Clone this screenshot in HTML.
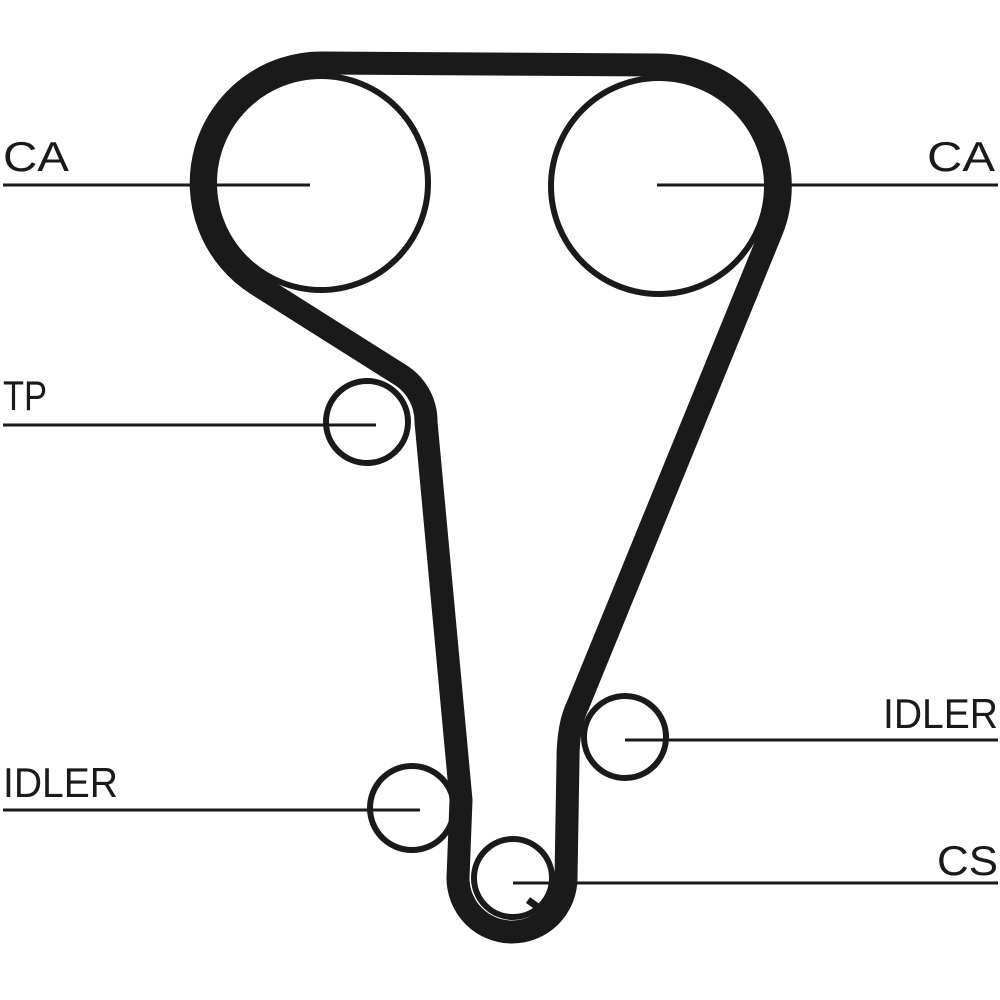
<!DOCTYPE html>
<html><head><meta charset="utf-8"><style>html,body{margin:0;padding:0;background:#fff}svg{display:block}</style></head>
<body>
<svg width="1000" height="1000" viewBox="0 0 1000 1000" xmlns="http://www.w3.org/2000/svg">
<g fill="none" stroke="#1a1a1a">
<path d="M321 63 L659 65 A121 121 0 0 1 772 230 L578 705 Q568 725 568 760 L566 878 A54 54 0 0 1 458 878 L461 800 L426 422 A55 55 0 0 0 402 376 L258 285 A120 120 0 0 1 321 63 Z" stroke-width="23" stroke-linejoin="round"/>
<circle cx="321" cy="183" r="107" stroke-width="6"/>
<circle cx="659" cy="186" r="108" stroke-width="6"/>
<circle cx="367" cy="422" r="41" stroke-width="6"/>
<circle cx="625" cy="737" r="41" stroke-width="6"/>
<circle cx="412" cy="808" r="42" stroke-width="6"/>
<circle cx="513" cy="878" r="39" stroke-width="6"/>
<line x1="528" y1="900" x2="546" y2="913" stroke-width="7"/>
<g stroke-width="3">
<line x1="3" y1="185" x2="310" y2="185"/>
<line x1="657" y1="185" x2="998" y2="185"/>
<line x1="3" y1="425" x2="376" y2="425"/>
<line x1="625" y1="740" x2="998" y2="740"/>
<line x1="3" y1="810" x2="420" y2="810"/>
<line x1="513" y1="883" x2="998" y2="883"/>
</g>
</g>
<g font-family="Liberation Sans, sans-serif" font-size="42" fill="#1a1a1a">
<text x="3" y="171" textLength="66" lengthAdjust="spacingAndGlyphs">CA</text>
<text x="927" y="171" textLength="68" lengthAdjust="spacingAndGlyphs">CA</text>
<text x="3" y="410" textLength="44" lengthAdjust="spacingAndGlyphs">TP</text>
<text x="883" y="728" textLength="115" lengthAdjust="spacingAndGlyphs">IDLER</text>
<text x="3" y="797" textLength="115" lengthAdjust="spacingAndGlyphs">IDLER</text>
<text x="937" y="875" textLength="61" lengthAdjust="spacingAndGlyphs">CS</text>
</g>
</svg>
</body></html>
